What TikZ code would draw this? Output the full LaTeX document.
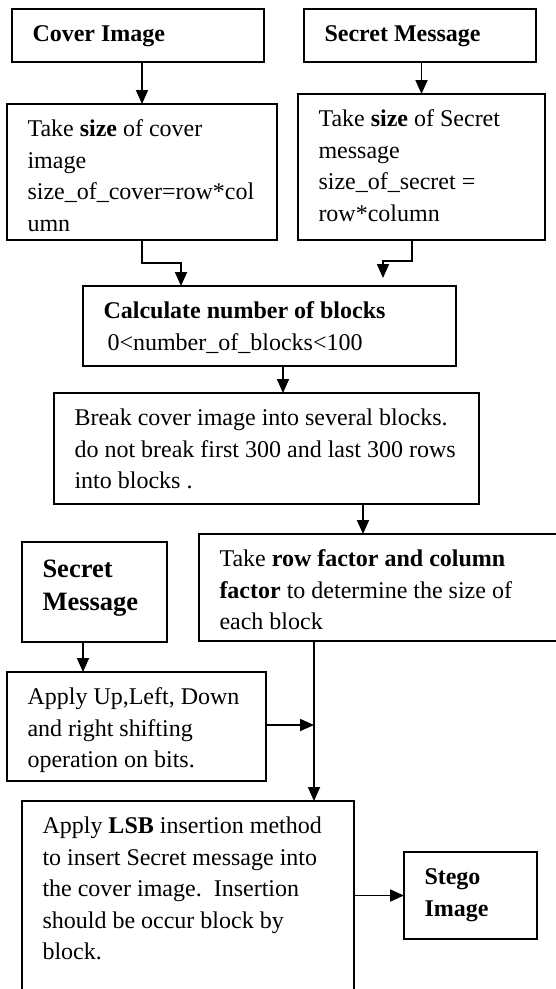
\documentclass[tikz,border=0pt]{standalone}
\usepackage{fontspec}
\setmainfont{Liberation Serif}
\usetikzlibrary{arrows.meta}

\begin{document}
\begin{tikzpicture}[x=1pt, y=-1pt,
    blk/.style={draw, line width=1.8pt, anchor=north west, align=flush left,
                inner xsep=20.5pt, inner ysep=0pt, outer sep=0pt,
                text height=32.5pt, font=\fontsize{24}{31.5}\selectfont},
    arr/.style={line width=1.8pt, -{Triangle[length=14pt, width=12pt]}}]

    % page
    \fill[white] (0,0) rectangle (556,989);
    \useasboundingbox (0,0) rectangle (556,989);

    % Inputs
    \node[blk, text width=211pt, text depth=20.5pt] (cover) at (12,9)
        {\textbf{Cover Image}};
    \node[blk, text width=191pt, text depth=20.5pt] (secret) at (304,9)
        {\textbf{Secret Message}};

    % Sizes
    \node[blk, text width=229pt, text depth=103.5pt] (csize) at (7,104)
        {Take \textbf{size} of cover\\image\\size\_of\_cover=row*col\\umn};
    \node[blk, text width=206pt, text depth=113.5pt] (ssize) at (298,94)
        {Take \textbf{size} of Secret\\message\\size\_of\_secret =\\row*column};

    % Blocks
    \node[blk, text width=332pt, text depth=47.5pt] (nblocks) at (83,286)
        {\textbf{Calculate number of blocks}\\\hspace*{4pt}0<number\_of\_blocks<100};
    \node[blk, text width=384pt, text depth=78.5pt] (split) at (54,393)
        {Break cover image into several blocks.\\do not break first 300 and last 300 rows\\into blocks .};
    \node[blk, text width=325pt, text depth=74.5pt] (factor) at (199,534)
        {Take \textbf{row factor and column}\\\textbf{factor} to determine the size of\\each block};

    % Message side
    \node[blk, text width=104pt, text height=35pt, text depth=65pt,
          font=\fontsize{26.5}{33}\selectfont\bfseries] (secmsg) at (22,542)
        {Secret\\Message};
    \node[blk, text width=218pt, text depth=76.5pt] (shifting) at (7,672)
        {Apply Up,Left, Down\\and right shifting\\operation on bits.};

    % Embedding and output
    \node[blk, text width=291pt, text depth=187.5pt] (lsb) at (22,801)
        {Apply \textbf{LSB} insertion method\\to insert Secret message into\\the cover image.\ \ Insertion\\should be occur block by\\block.};
    \node[blk, text width=92pt, text depth=54.5pt] (stego) at (404,852)
        {\textbf{Stego}\\\textbf{Image}};

    \coordinate (merge) at (314,725);

    % Connectors
    \draw[arr] (cover.south -| csize.north) -- (csize.north);
    \draw[arr] (secret.south -| ssize.north) -- (ssize.north);
    \draw[arr] (csize.south) -- ++(0,23) -| ([xshift=-88.5pt]nblocks.north);
    \draw[arr] ([xshift=-9.5pt]ssize.south) -- ++(0,21) -| ([xshift=113.5pt,yshift=8pt]nblocks.north);
    \draw[arr] ([xshift=13.5pt]nblocks.south) -- ([xshift=13.5pt]nblocks.south |- split.north);
    \draw[arr] ([xshift=96.5pt]split.south) -- ([xshift=96.5pt]split.south |- factor.north);
    \draw[arr] ([xshift=-11.5pt]secmsg.south) -- ([xshift=-11.5pt]secmsg.south |- shifting.north);
    \draw[arr] (factor.south -| merge) -- (merge |- lsb.north);
    \draw[arr] (shifting.east |- merge) -- (merge);
    \draw[arr] (stego.west -| lsb.east) -- (stego.west);
\end{tikzpicture}
\end{document}
